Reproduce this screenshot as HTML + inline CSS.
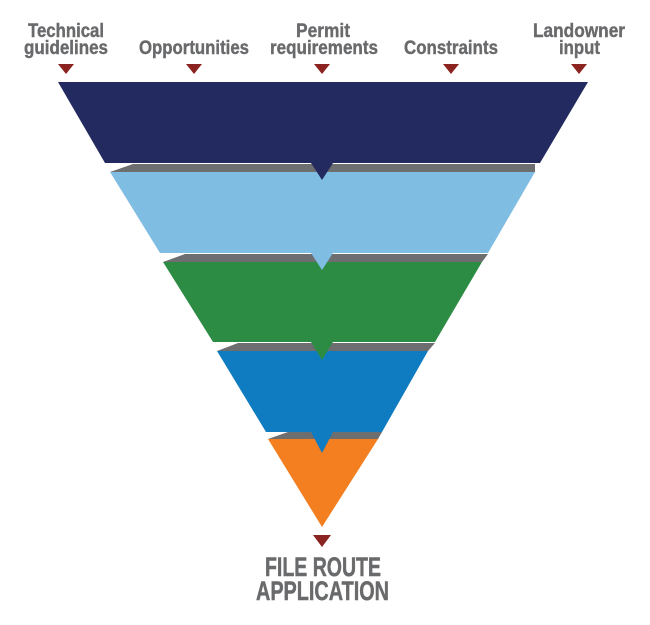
<!DOCTYPE html>
<html><head><meta charset="utf-8"><style>
html,body{margin:0;padding:0;background:#fff;}
svg{display:block;}
text{font-family:"Liberation Sans",sans-serif;font-weight:bold;fill:#696a6c;}
</style></head><body>
<svg width="650" height="625" viewBox="0 0 650 625" xmlns="http://www.w3.org/2000/svg">
<g font-size="19" stroke="#696a6c" stroke-width="0.4">
<text x="28" y="37" textLength="76" lengthAdjust="spacingAndGlyphs">Technical</text>
<text x="24" y="54" textLength="84" lengthAdjust="spacingAndGlyphs">guidelines</text>
<text x="139" y="54" textLength="110" lengthAdjust="spacingAndGlyphs">Opportunities</text>
<text x="296" y="37" textLength="54" lengthAdjust="spacingAndGlyphs">Permit</text>
<text x="270" y="54" textLength="108" lengthAdjust="spacingAndGlyphs">requirements</text>
<text x="404" y="54" textLength="94" lengthAdjust="spacingAndGlyphs">Constraints</text>
<text x="533" y="37" textLength="92" lengthAdjust="spacingAndGlyphs">Landowner</text>
<text x="559" y="54" textLength="41" lengthAdjust="spacingAndGlyphs">input</text>
</g>
<g fill="#8b2320">
<polygon points="58,64 74,64 66,74"/>
<polygon points="186,64 202,64 194,74"/>
<polygon points="314,64 330,64 322,74"/>
<polygon points="443,64 459,64 451,74"/>
<polygon points="571,64 587,64 579,74"/>
<polygon points="313,535 331,535 322,547"/>
</g>
<polygon fill="#f47f20" points="268,439 378,439 322,527"/>
<polygon fill="#6d6e70" points="288,432 382,432 378,439 268,439"/>
<polygon fill="#0f7bc0" points="217,351 428,351 382,432 333,432 322,453 311,432 266,432"/>
<polygon fill="#6d6e70" points="238,343 435,343 428,351 217,351"/>
<polygon fill="#2d8c44" points="163,262 482,262 435,342 333,342 322,360 311,342 213,342"/>
<polygon fill="#6d6e70" points="185,254 488,254 482,262 163,262"/>
<polygon fill="#80bde3" points="110,172 535,172 488,253 333,253 322,270 311,253 160,253"/>
<polygon fill="#6d6e70" points="133,164 535,164 535,172 110,172"/>
<polygon fill="#232a60" points="58,82 588,82 540,163 333,163 322,180 311,163 105,163"/>
<g font-size="27" stroke="#696a6c" stroke-width="0.5">
<text x="265" y="576" textLength="116" lengthAdjust="spacingAndGlyphs">FILE ROUTE</text>
<text x="256" y="600" textLength="133" lengthAdjust="spacingAndGlyphs">APPLICATION</text>
</g>
</svg>
</body></html>
